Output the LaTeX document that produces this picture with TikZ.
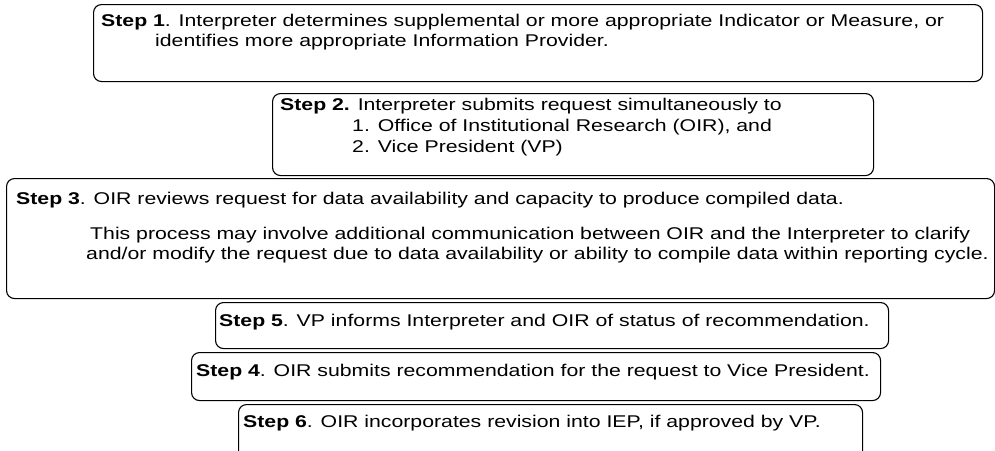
\documentclass[tikz,border=0pt]{standalone}
\usepackage{fontspec}
\setmainfont{Liberation Sans}[FakeStretch=1.25]
\usetikzlibrary{calc}

\tikzset{
  stepbox/.style={draw, line width=1.1pt, rounded corners=8pt, inner sep=0pt, anchor=north west},
  steptext/.style={anchor=base west, inner sep=0pt, font=\fontsize{17}{20}\selectfont},
}

\begin{document}
\begin{tikzpicture}[x=1pt,y=-1pt]
\clip (0,0) rectangle (995,450);

% the six step boxes, placed by their top left corner
\node[stepbox, minimum width=889pt, minimum height=77pt]  (s1) at (93,4)   {};
\node[stepbox, minimum width=601pt, minimum height=82pt]  (s2) at (272,93) {};
\node[stepbox, minimum width=988pt, minimum height=120pt] (s3) at (6,178)  {};
\node[stepbox, minimum width=673pt, minimum height=46pt]  (s5) at (215,302) {};
\node[stepbox, minimum width=689pt, minimum height=48pt]  (s4) at (191,352) {};
\node[stepbox, minimum width=624pt, minimum height=66pt]  (s6) at (238,404) {};

% text lines
\node[steptext] (t1a) at ($(s1.north west)+(8,22)$) {\textbf{Step 1}. Interpreter determines supplemental or more appropriate Indicator or Measure, or};
\node[steptext] (t1b) at ($(s1.north west)+(62,42)$) {identifies more appropriate Information Provider.};

\node[steptext] (t2a) at ($(s2.north west)+(8,17)$) {\textbf{Step 2.} Interpreter submits request simultaneously to};
\node[steptext] (t2b) at ($(s2.north west)+(80,38)$) {1. Office of Institutional Research (OIR), and};
\node[steptext] (t2c) at ($(s2.north west)+(80,59)$) {2. Vice President (VP)};

\node[steptext] (t3a) at ($(s3.north west)+(10,26)$) {\textbf{Step 3}. OIR reviews request for data availability and capacity to produce compiled data.};
\node[steptext] (t3b) at ($(s3.north west)+(84,61)$) {This process may involve additional communication between OIR and the Interpreter to clarify};
\node[steptext] (t3c) at ($(s3.north west)+(80,81)$) {and/or modify the request due to data availability or ability to compile data within reporting cycle.};

\node[steptext] (t5) at ($(s5.north west)+(4,24)$) {\textbf{Step 5}. VP informs Interpreter and OIR of status of recommendation.};
\node[steptext] (t4) at ($(s4.north west)+(5,24)$) {\textbf{Step 4}. OIR submits recommendation for the request to Vice President.};
\node[steptext] (t6) at ($(s6.north west)+(5,23)$) {\textbf{Step 6}. OIR incorporates revision into IEP, if approved by VP.};
\end{tikzpicture}
\end{document}
